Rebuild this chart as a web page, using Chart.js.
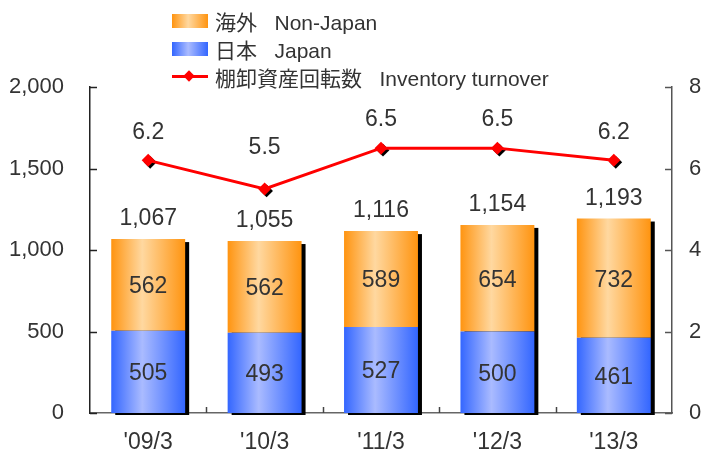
<!DOCTYPE html>
<html>
<head>
<meta charset="utf-8">
<script src="https://cdn.jsdelivr.net/npm/chart.js@4/dist/chart.umd.min.js"></script>
<style>
  html, body { margin: 0; padding: 0; background: #fff; }
  #wrap { position: relative; width: 701px; height: 456px; }
  #legend { position: absolute; left: 172px; top: 7px; font-family: "Liberation Sans", Arial, "Noto Sans CJK JP", sans-serif; font-size: 21px; color: #333; }
  .item { height: 28px; display: flex; align-items: center; white-space: pre; }
  .swatch { width: 36px; height: 14px; margin-right: 7px; }
  .lineSwatch { position: relative; width: 36px; height: 14px; margin-right: 7px; }
  .lineSwatch::before { content: ''; position: absolute; left: 0; right: 0; top: 5px; height: 3px; background: #ff0000; }
  .lineSwatch::after { content: ''; position: absolute; left: 13px; top: 2px; width: 8px; height: 8px; background: #ff0000; transform: rotate(45deg); }
</style>
</head>
<body>
<div id="wrap">
  <canvas id="chart" width="701" height="456"></canvas>
  <div id="legend">
    <div class="item"><span class="swatch" style="background:linear-gradient(90deg,#ff9410,#ffd8a0 45%,#ff9410)"></span>海外   Non-Japan</div>
    <div class="item"><span class="swatch" style="background:linear-gradient(90deg,#3366ff,#aabbff 45%,#3366ff)"></span>日本   Japan</div>
    <div class="item"><span class="lineSwatch"></span>棚卸資産回転数   Inventory turnover</div>
  </div>
</div>
<script>
const categories = ["'09/3", "'10/3", "'11/3", "'12/3", "'13/3"];
const japan = [505, 493, 527, 500, 461];
const nonJapan = [562, 562, 589, 654, 732];
const totals = [1067, 1055, 1116, 1154, 1193];
const turnover = [6.2, 5.5, 6.5, 6.5, 6.2];

const BAR_PCT = 0.635;
const FONT = '"Liberation Sans", Arial, sans-serif';

// horizontal shine across each bar
function barGradient(edge, light) {
  return function(ctx) {
    const chart = ctx.chart;
    const x = chart.scales.x;
    if (!x || !chart.chartArea) return edge;
    const cx = x.getPixelForValue(ctx.dataIndex);
    const half = (x.width / categories.length) * BAR_PCT / 2;
    const g = chart.ctx.createLinearGradient(cx - half, 0, cx + half, 0);
    g.addColorStop(0, edge);
    g.addColorStop(0.42, light);
    g.addColorStop(1, edge);
    return g;
  };
}

const fmt = v => v.toLocaleString('en-US');

const decorations = {
  id: 'decorations',
  beforeDatasetsDraw(chart) {
    const c = chart.ctx;
    const top = chart.getDatasetMeta(1).data;
    const base = chart.getDatasetMeta(0).data;
    c.save();
    c.fillStyle = '#000';
    top.forEach((el, i) => {
      const w = el.width;
      const y0 = el.y;
      const y1 = base[i].base;
      c.fillRect(el.x - w / 2 + 4, y0 + 3, w, y1 - y0 - 1);
    });
    // diamond shadows
    chart.getDatasetMeta(2).data.forEach(p => {
      c.save();
      c.translate(p.x + 2, p.y + 2);
      c.rotate(Math.PI / 4);
      c.fillRect(-4.5, -4.5, 9, 9);
      c.restore();
    });
    c.restore();
  },
  afterDatasetsDraw(chart) {
    const c = chart.ctx;
    c.save();
    c.fillStyle = '#333';
    c.font = '23px ' + FONT;
    c.textAlign = 'center';
    c.textBaseline = 'middle';
    [0, 1].forEach(d => {
      chart.getDatasetMeta(d).data.forEach((el, i) => {
        const v = chart.data.datasets[d].data[i];
        c.fillText(fmt(v), el.x, (el.y + el.base) / 2 + 2);
      });
    });
    chart.getDatasetMeta(1).data.forEach((el, i) => {
      c.fillText(fmt(totals[i]), el.x, el.y - 20);
    });
    const lift = [28, 41, 28, 28, 28];
    chart.getDatasetMeta(2).data.forEach((p, i) => {
      c.fillText(turnover[i].toFixed(1), p.x, p.y - lift[i]);
    });
    c.restore();
  },
  afterDraw(chart) {
    const c = chart.ctx;
    const { x, y, y1 } = chart.scales;
    const area = chart.chartArea;
    c.save();
    c.lineWidth = 1.5;
    c.strokeStyle = '#222';
    y.ticks.forEach(t => {
      const py = Math.round(y.getPixelForValue(t.value)) + 0.5;
      c.beginPath(); c.moveTo(area.left, py); c.lineTo(area.left + 7, py); c.stroke();
    });
    c.strokeStyle = '#555';
    y1.ticks.forEach(t => {
      const py = Math.round(y1.getPixelForValue(t.value)) + 0.5;
      c.beginPath(); c.moveTo(area.right, py); c.lineTo(area.right - 7, py); c.stroke();
    });
    c.strokeStyle = '#444';
    const step = x.width / categories.length;
    for (let i = 1; i < categories.length; i++) {
      const px = Math.round(area.left + step * i) + 0.5;
      c.beginPath(); c.moveTo(px, area.bottom); c.lineTo(px, area.bottom - 6); c.stroke();
    }
    c.restore();
  }
};

new Chart(document.getElementById('chart'), {
  data: {
    labels: categories,
    datasets: [
      {
        type: 'bar', label: '日本 Japan', data: japan, yAxisID: 'y', order: 2,
        backgroundColor: barGradient('#3366ff', '#aabbff'),
        barPercentage: BAR_PCT, categoryPercentage: 1
      },
      {
        type: 'bar', label: '海外 Non-Japan', data: nonJapan, yAxisID: 'y', order: 2,
        backgroundColor: barGradient('#ff9410', '#ffd8a0'),
        barPercentage: BAR_PCT, categoryPercentage: 1
      },
      {
        type: 'line', label: '棚卸資産回転数 Inventory turnover', data: turnover, yAxisID: 'y1', order: 0,
        borderColor: '#ff0000', borderWidth: 3, pointStyle: 'rectRot', pointRadius: 6.5,
        pointBackgroundColor: '#ff0000', pointBorderWidth: 0, tension: 0
      }
    ]
  },
  options: {
    responsive: false,
    animation: false,
    layout: { padding: { top: 87, left: 0, right: 0, bottom: 0 } },
    plugins: { legend: { display: false }, tooltip: { enabled: false } },
    scales: {
      x: {
        stacked: true,
        grid: { display: false },
        border: { color: '#666', width: 1.5 },
        ticks: { color: '#333', font: { family: FONT, size: 23 }, padding: 8 },
        afterFit: s => { s.height = 43; }
      },
      y: {
        stacked: true, position: 'left', min: 0, max: 2000,
        grid: { display: false },
        border: { color: '#222', width: 1.5 },
        ticks: { stepSize: 500, color: '#333', font: { family: FONT, size: 22 }, padding: 18 },
        afterFit: s => { s.width = 90; }
      },
      y1: {
        position: 'right', min: 0, max: 8,
        grid: { display: false },
        border: { color: '#555', width: 1.5 },
        ticks: { stepSize: 2, color: '#333', font: { family: FONT, size: 22 }, padding: 9 },
        afterFit: s => { s.width = 29; }
      }
    }
  },
  plugins: [decorations]
});
</script>
</body>
</html>
